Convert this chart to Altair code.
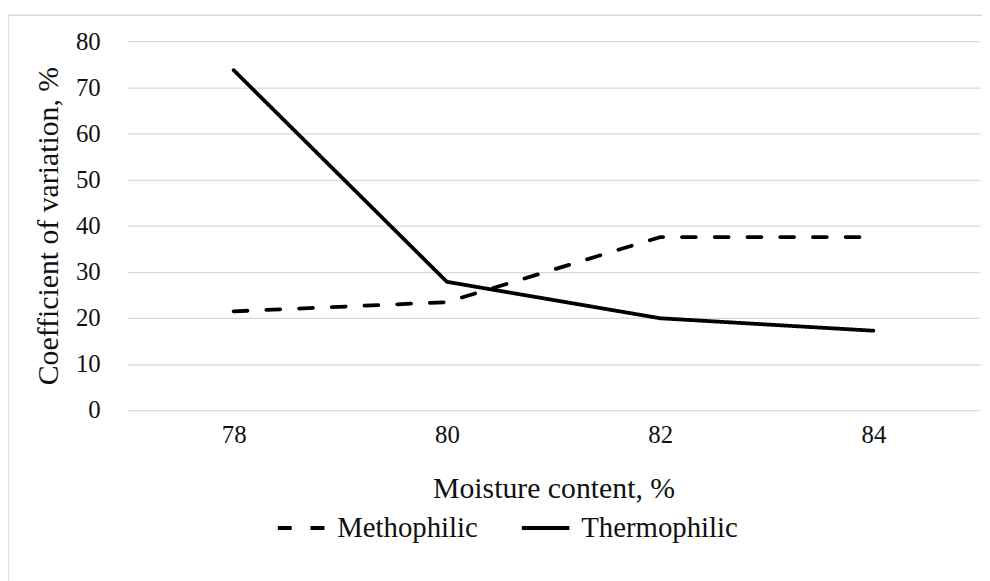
import altair as alt
import pandas as pd

moisture = ["78", "80", "82", "84"]
methophilic = [21.4, 23.4, 37.5, 37.5]
thermophilic = [73.7, 27.8, 19.9, 17.2]
series_names = ["Methophilic", "Thermophilic"]

rows = []
for name, vals in zip(series_names, [methophilic, thermophilic]):
    for m, v in zip(moisture, vals):
        rows.append({"moisture": m, "value": v, "series": name})
df = pd.DataFrame(rows)

FONT = "Liberation Serif"
TXT = "#111111"
GRID = "#d9d9d9"

lines = alt.Chart(df).mark_line(color="black", strokeWidth=3.8, strokeCap="round").encode(
    x=alt.X("moisture:O", sort=moisture,
            scale=alt.Scale(type="point", padding=0.5),
            axis=alt.Axis(title="Moisture content, %", labelAngle=0, ticks=False, domain=False,
                          labelPadding=13, titlePadding=26)),
    y=alt.Y("value:Q", scale=alt.Scale(domain=[0, 80]),
            axis=alt.Axis(title="Coefficient of variation, %", values=list(range(0, 81, 10)),
                          ticks=False, domain=False, labelPadding=27, titlePadding=12,
                          gridColor=GRID, gridWidth=1.3)),
    strokeDash=alt.StrokeDash("series:N",
                              scale=alt.Scale(domain=series_names, range=[[14, 19], [1, 0]]),
                              legend=alt.Legend(title=None, orient="none", direction="horizontal",
                                                legendX=150, legendY=465,
                                                symbolType="stroke", symbolSize=2300,
                                                symbolStrokeWidth=4, symbolStrokeColor="black",
                                                labelFontSize=29, labelFont=FONT, labelColor=TXT,
                                                labelOffset=10, columnPadding=36)),
)

frame_data = alt.Data(values=[{}])
frame_top = alt.Chart(frame_data).mark_rule(color=GRID, strokeWidth=1.5).encode(
    x=alt.value(-120), x2=alt.value(870), y=alt.value(-26))
frame_left = alt.Chart(frame_data).mark_rule(color=GRID, strokeWidth=1.5).encode(
    x=alt.value(-120), y=alt.value(-26), y2=alt.value(560))

chart = alt.layer(frame_top, frame_left, lines).properties(
    width=860, height=372,
    autosize=alt.AutoSizeParams(type="none"),
    padding={"left": 120, "top": 31, "right": 2, "bottom": 170},
).configure_view(stroke=None).configure_axis(
    labelFont=FONT, titleFont=FONT, labelFontSize=25, titleFontSize=30,
    labelColor=TXT, titleColor=TXT, titleFontWeight="normal", grid=True,
).configure_axisX(grid=False)

chart.save("out.html", embed_options={"renderer": "svg", "actions": False})
